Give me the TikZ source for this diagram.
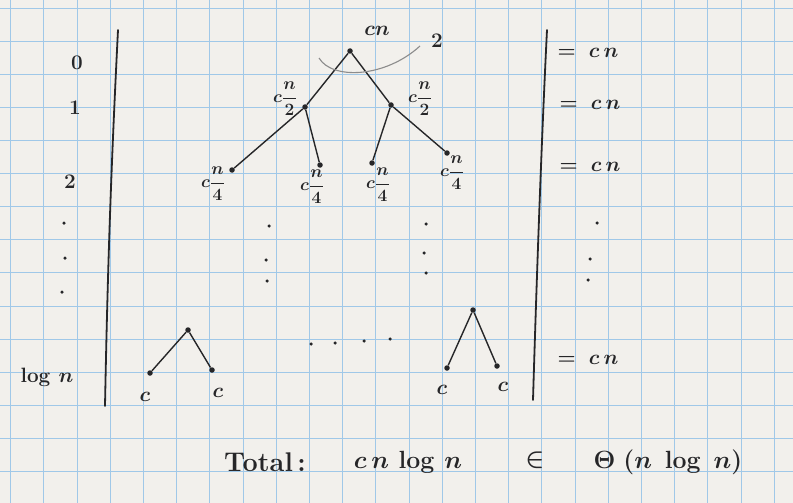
\documentclass[tikz,border=0pt]{standalone}
\usepackage{amsmath,amssymb}
\usetikzlibrary{positioning}
\definecolor{paper}{RGB}{242,240,236}
\definecolor{gridblue}{RGB}{160,200,232}
\definecolor{ink}{RGB}{38,38,40}
\definecolor{pencil}{RGB}{140,140,140}

\begin{document}
\begin{tikzpicture}[x=1pt,y=-1pt,
    every node/.style={text=ink,inner sep=1pt},
    hand/.style={font=\fontsize{22}{26}\selectfont\boldmath},
    small/.style={font=\fontsize{19}{22}\selectfont\boldmath},
    big/.style={font=\fontsize{27}{31}\selectfont\boldmath},
    vtx/.style={circle,fill=ink,inner sep=0pt,minimum size=5.5pt},
    dotty/.style={circle,fill=ink,inner sep=0pt,minimum size=3.5pt},
    edge/.style={draw=ink,line width=1.4pt},
    rule/.style={draw=ink,line width=1.8pt,line cap=round}]
  % paper and grid
  \fill[paper] (0,0) rectangle (793,503);
  \useasboundingbox (0,0) rectangle (793,503);
  \foreach \i in {0,...,23}
    \draw[gridblue,line width=.7pt] (10.5+33.2*\i,0) -- (10.5+33.2*\i,503);
  \foreach \j in {0,...,14}
    \draw[gridblue,line width=.7pt] (0,8+33.1*\j) -- (793,8+33.1*\j);

  % the two rules
  \draw[rule] (118,30) .. controls (112,150) and (108,250) .. (105,406);
  \draw[rule] (547,30) .. controls (541,150) and (536,300) .. (533,400);

  % recursion tree
  \node[vtx] (root) at (350,51) {};
  \node[vtx] (l) at (305,107) {};
  \node[vtx] (r) at (391,105) {};
  \node[vtx] (ll) at (232,170) {};
  \node[vtx] (lr) at (320,165) {};
  \node[vtx] (rl) at (372,163) {};
  \node[vtx] (rr) at (447,153) {};
  \draw[edge] (root) -- (l);
  \draw[edge] (root) -- (r);
  \draw[edge] (l) -- (ll);
  \draw[edge] (l) -- (lr);
  \draw[edge] (r) -- (rl);
  \draw[edge] (r) -- (rr);
  \node[hand] (rootlbl) at (377,31) {$cn$};
  \node[small] (llbl) at (285,99) {$c\dfrac{n}{2}$};
  \node[small] (rlbl) at (420,99) {$c\dfrac{n}{2}$};
  \node[small] (lllbl) at (213,184) {$c\dfrac{n}{4}$};
  \node[small] (lrlbl) at (312,187) {$c\dfrac{n}{4}$};
  \node[small] (rllbl) at (378,185) {$c\dfrac{n}{4}$};
  \node[small] (rrlbl) at (452,173) {$c\dfrac{n}{4}$};
  \draw[pencil,line width=1.1pt] (319,58) .. controls (332,80) and (385,78) .. (420,46);
  \node[hand] (two) at (437,41) {$2$};

  % elided levels
  \foreach \x/\y in {269/226,266/260,267/281,426/224,424/253,426/273,
                     311/344,335/343,364/341,390/339}
    \node[dotty] at (\x,\y) {};

  % bottom level
  \node[vtx] (ba) at (188,330) {};
  \node[vtx] (bal) at (150,373) {};
  \node[vtx] (bar) at (212,370) {};
  \node[vtx] (bb) at (473,310) {};
  \node[vtx] (bbl) at (447,368) {};
  \node[vtx] (bbr) at (497,366) {};
  \draw[edge] (ba) -- (bal);
  \draw[edge] (ba) -- (bar);
  \draw[edge] (bb) -- (bbl);
  \draw[edge] (bb) -- (bbr);
  \node[hand] (balbl) at (145,397) {$c$};
  \node[hand] (barlbl) at (218,393) {$c$};
  \node[hand] (bbllbl) at (442,390) {$c$};
  \node[hand] (bbrlbl) at (503,387) {$c$};

  % level numbers
  \node[hand] (lv0) at (77,63) {$0$};
  \node[hand] (lv1) at (75,108) {$1$};
  \node[hand] (lv2) at (70,182) {$2$};
  \foreach \x/\y in {64/223,65/258,62/292}
    \node[dotty] at (\x,\y) {};
  \node[hand] (lvlog) at (47,377) {$\log\,n$};

  % cost per level
  \node[hand] (c0) at (588,53) {$=\;c\,n$};
  \node[hand] (c1) at (590,105) {$=\;c\,n$};
  \node[hand] (c2) at (590,167) {$=\;c\,n$};
  \foreach \x/\y in {597/223,590/259,588/280}
    \node[dotty] at (\x,\y) {};
  \node[hand] (clog) at (588,360) {$=\;c\,n$};

  % total
  \node[big] (tot) at (265,462) {\bfseries Total\,:};
  \node[big] (sum) at (408,462) {$c\,n\,\log\,n$};
  \node[big] (in) at (535,460) {$\in$};
  \node[big] (theta) at (668,462) {$\Theta\;(n\;\log\;n)$};
\end{tikzpicture}
\end{document}
